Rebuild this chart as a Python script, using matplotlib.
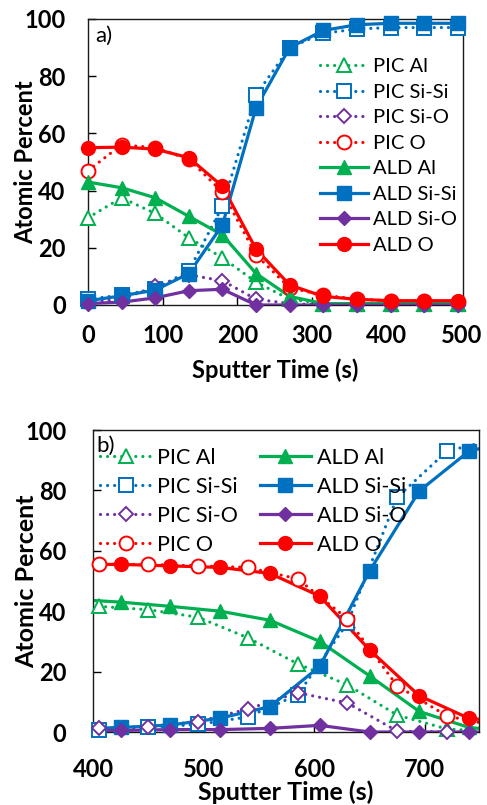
import matplotlib
matplotlib.use('Agg')
import matplotlib.pyplot as plt
from matplotlib.lines import Line2D
import numpy as np

plt.rcParams['font.family'] = ['Lato', 'DejaVu Sans']

GREEN = '#00B050'
BLUE = '#0070C0'
PURPLE = '#7030A0'
RED = '#FF0000'

# panel a) depth profile, both films sampled on the same time grid
t_a = [0, 45, 90, 135, 180, 225, 270, 315, 360, 405, 450, 495]
pic_al_a = [30.5, 37.5, 32, 23.5, 16.5, 8, 2, 0.5, 0.5, 0.5, 0.5, 0.5]
pic_sisi_a = [2, 3.5, 5.5, 12, 34.5, 73.5, 90, 95, 96.5, 97, 97, 97]
pic_sio_a = [1, 2, 6.5, 10.5, 8.5, 2, 0.5, 0, 0, 0, 0, 0]
pic_o_a = [47, 56, 55, 51, 39.5, 17.5, 6, 3.5, 2, 1.5, 1.5, 1]
ald_al_a = [43, 41, 37.5, 31, 24.5, 11, 3, 0.5, 0.5, 0.5, 0.5, 0.5]
ald_sisi_a = [1.5, 3.2, 5.2, 11, 28, 69, 90, 96, 98, 98.5, 98.5, 98.5]
ald_sio_a = [0.5, 1, 2.5, 5, 5.5, 0, 0, 0, 0, 0, 0, 0]
ald_o_a = [55, 55.2, 54.5, 51.5, 41.5, 19.5, 7, 3, 2, 1.5, 1.5, 1.5]

# panel b) zoom on the interface, PIC and ALD sampled on offset grids
t_pic_b = [405, 450, 495, 540, 585, 630, 675, 720, 765]
pic_al_b = [41.6, 40.5, 38, 31.2, 22.6, 15.6, 5.6, 1, 0]
pic_sisi_b = [0.8, 1.5, 2.5, 5, 12.3, 36, 77.7, 93, 97]
pic_sio_b = [1.3, 1.8, 3.4, 7.6, 13, 9.6, 0.3, 0, 0]
pic_o_b = [55.5, 55.5, 55, 54.5, 50.7, 37.5, 15.3, 5.3, 2]

t_ald_b = [380, 425, 470, 515, 560, 605, 650, 695, 740, 785]
ald_al_b = [44, 43, 41.6, 40, 37, 30, 18.6, 6.8, 1.5, 0]
ald_sisi_b = [1, 1.5, 2.3, 4.6, 8.4, 21.7, 53.3, 79.8, 93, 97]
ald_sio_b = [0.5, 0.5, 0.8, 0.8, 1.2, 2.2, 0, 0, 0, 0]
ald_o_b = [55.5, 55.5, 55, 54.5, 52.5, 45, 27.2, 12, 4.5, 3]

labels = ['PIC Al', 'PIC Si-Si', 'PIC Si-O', 'PIC O',
          'ALD Al', 'ALD Si-Si', 'ALD Si-O', 'ALD O']
colors = [GREEN, BLUE, PURPLE, RED] * 2
markers = ['^', 's', 'D', 'o'] * 2
msizes = [10, 9.5, 7.5, 10]

DOT = (0, (0.01, 2.2))


def series_style(i):
    pic = i < 4
    c = colors[i]
    return dict(
        color=c,
        lw=2.3,
        ls=DOT if pic else '-',
        marker=markers[i],
        ms=msizes[i % 4],
        mfc='white' if pic else c,
        mec=c,
        mew=1.4 if pic else 1.0,
    )


def draw(ax, xs, ys, i, xlim):
    st = series_style(i)
    xs = np.asarray(xs, float)
    ys = np.asarray(ys, float)
    # line is clipped to the frame, markers are allowed to overhang it
    ax.plot(xs, ys, color=st['color'], lw=st['lw'], ls=st['ls'],
            dash_capstyle='round', solid_capstyle='round', zorder=2 + i * 0.1)
    vis = (xs >= xlim[0]) & (xs <= xlim[1])
    ax.plot(xs[vis], ys[vis], ls='none', marker=st['marker'], ms=st['ms'],
            mfc=st['mfc'], mec=st['mec'], mew=st['mew'], clip_on=False,
            zorder=3 + i * 0.1)


def handle(i):
    st = series_style(i)
    return Line2D([], [], color=st['color'], lw=st['lw'], ls=st['ls'],
                  dash_capstyle='round', marker=st['marker'], ms=st['ms'],
                  mfc=st['mfc'], mec=st['mec'], mew=st['mew'])


def style_axes(ax, xlim, xticks, tick_fs, label_fs, xpad, ypad):
    ax.set_xlim(*xlim)
    ax.set_ylim(0, 100)
    ax.set_xticks(xticks)
    ax.set_yticks(range(0, 101, 20))
    ax.tick_params(direction='in', length=6, width=1, labelsize=tick_fs)
    ax.tick_params(axis='x', pad=xpad)
    ax.tick_params(axis='y', pad=ypad)
    for lab in ax.get_xticklabels() + ax.get_yticklabels():
        lab.set_fontweight('bold')
    for sp in ax.spines.values():
        sp.set_linewidth(1.0)
        sp.set_color('#1a1a1a')
    ax.set_ylabel('Atomic Percent', fontsize=label_fs, fontweight='bold')
    ax.set_xlabel('Sputter Time (s)', fontsize=label_fs, fontweight='bold')


fig = plt.figure(figsize=(4.87, 8.05), dpi=100)

# panel a
ax1 = fig.add_axes([88 / 487, 1 - 305 / 805, 375 / 487, 286 / 805])
xlim_a = (0, 502)
series_a = [pic_al_a, pic_sisi_a, pic_sio_a, pic_o_a,
            ald_al_a, ald_sisi_a, ald_sio_a, ald_o_a]
for i, ys in enumerate(series_a):
    draw(ax1, t_a, ys, i, xlim_a)
style_axes(ax1, xlim_a, range(0, 501, 100), 17, 17, 14, 16)
ax1.yaxis.set_label_coords(-0.135, 0.5)
ax1.xaxis.set_label_coords(0.5, -0.185)
ax1.text(0.02, 0.975, 'a)', transform=ax1.transAxes, fontsize=16,
         va='top', ha='left')
ax1.legend(handles=[handle(i) for i in range(8)], labels=labels,
           loc='upper left', bbox_to_anchor=(0.597, 0.892), frameon=False,
           fontsize=14.5, handlelength=2.4, handletextpad=0.25,
           labelspacing=0.42, numpoints=1, borderaxespad=0)

# panel b
ax2 = fig.add_axes([93 / 487, 1 - 732 / 805, 386 / 487, 302 / 805])
xlim_b = (400, 749)
for i, ys in enumerate([pic_al_b, pic_sisi_b, pic_sio_b, pic_o_b]):
    draw(ax2, t_pic_b, ys, i, xlim_b)
for i, ys in enumerate([ald_al_b, ald_sisi_b, ald_sio_b, ald_o_b]):
    draw(ax2, t_ald_b, ys, i + 4, xlim_b)
style_axes(ax2, xlim_b, range(400, 701, 100), 17, 18, 19, 19)
ax2.yaxis.set_label_coords(-0.142, 0.5)
ax2.xaxis.set_label_coords(0.5, -0.16)
ax2.text(0.01, 0.98, 'b)', transform=ax2.transAxes, fontsize=16,
         va='top', ha='left')
ax2.legend(handles=[handle(i) for i in range(8)], labels=labels,
           loc='upper left', bbox_to_anchor=(-0.004, 0.97), frameon=False,
           ncol=2, fontsize=15.5, handlelength=2.4, handletextpad=0.25,
           labelspacing=0.42, columnspacing=1.0, numpoints=1,
           borderaxespad=0)

fig.savefig('out.png', dpi=100)
